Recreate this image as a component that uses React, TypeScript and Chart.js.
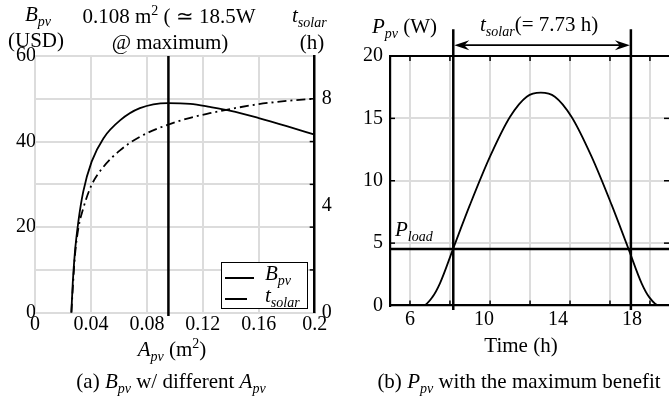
import React, { useEffect, useRef } from 'react';
import { Chart, registerables } from 'chart.js';
Chart.register(...registerables);

// ---------- data: (a) B_pv and t_solar vs A_pv ----------
const apv = [0.026, 0.027, 0.0285, 0.031, 0.0345, 0.0405, 0.049, 0.061, 0.075, 0.095, 0.111, 0.125, 0.14, 0.16, 0.18, 0.2];
const bpv = [0, 7, 14, 21.3, 28.3, 35.3, 40.8, 45.0, 47.8, 49.0, 48.8, 48.1, 47.2, 45.5, 43.6, 41.6];
const tsolarH = [0, 0.9, 2.1, 3.15, 3.9, 4.78, 5.46, 6.08, 6.58, 7.03, 7.29, 7.46, 7.62, 7.8, 7.92, 8.0];
const apvTicks = [0, 0.04, 0.08, 0.12, 0.16, 0.2];
const apvTickLabels = ['0', '0.04', '0.08', '0.12', '0.16', '0.2'];
const bpvTicks = [0, 10, 20, 30, 40, 50, 60];
const bpvTickLabels = ['0', '', '20', '', '40', '', '60'];
const tsolarTicks = [0, 4, 8];
const apvAtMax = 0.0954;

// ---------- data: (b) P_pv over the day ----------
const time = [4.92, 6.72, 7.2, 7.62, 8.34, 9.25, 10.33, 11.41, 12.31, 13.07, 13.83, 14.73, 15.81, 16.89, 17.8, 18.52, 18.94, 19.45, 20.0];
const ppv = [0, 0, 0.65, 1.78, 4.58, 8.1, 11.95, 15.13, 16.74, 17.06, 16.74, 15.13, 11.95, 8.1, 4.58, 1.78, 0.65, 0, 0];
const timeTicks = [6, 10, 14, 18];
const timeGrid = [6.0, 8.16, 10.33, 12.49, 14.65, 16.81, 18.97];
const ppvTicks = [0, 5, 10, 15, 20];
const pLoad = 4.53;
const tsolarStart = 8.34;
const tsolarEnd = 17.94;

const FONT = "'Liberation Serif', 'Times New Roman', serif";
const GRID = '#dcdcdc';
const CLEAR = 'rgba(0,0,0,0)';

const inwardTicks = (id: string, specs: { axis: string; values: number[]; edge: 'left' | 'right' | 'top' | 'bottom' }[]) => ({
  id,
  afterDatasetsDraw(chart: any) {
    const { ctx, chartArea } = chart;
    ctx.save();
    ctx.strokeStyle = '#000';
    ctx.lineWidth = 1.5;
    for (const s of specs) {
      const sc = chart.scales[s.axis];
      for (const v of s.values) {
        const p = sc.getPixelForValue(v);
        ctx.beginPath();
        if (s.edge === 'left') { ctx.moveTo(chartArea.left, p); ctx.lineTo(chartArea.left + 5, p); }
        if (s.edge === 'right') { ctx.moveTo(chartArea.right, p); ctx.lineTo(chartArea.right - 5, p); }
        if (s.edge === 'top') { ctx.moveTo(p, chartArea.top); ctx.lineTo(p, chartArea.top + 5); }
        if (s.edge === 'bottom') { ctx.moveTo(p, chartArea.bottom); ctx.lineTo(p, chartArea.bottom - 5); }
        ctx.stroke();
      }
    }
    ctx.restore();
  },
});

const arrowPlugin = {
  id: 'tsolarArrow',
  afterDatasetsDraw(chart: any) {
    const { ctx } = chart;
    const xs = chart.scales.x;
    const ys = chart.scales.y;
    const x0 = xs.getPixelForValue(tsolarStart) + 1;
    const x1 = xs.getPixelForValue(tsolarEnd) - 1;
    const y = ys.getPixelForValue(20.87);
    ctx.save();
    ctx.strokeStyle = '#000';
    ctx.fillStyle = '#000';
    ctx.lineWidth = 1.8;
    ctx.beginPath();
    ctx.moveTo(x0 + 6, y);
    ctx.lineTo(x1 - 6, y);
    ctx.stroke();
    const head = (tip: number, dir: number) => {
      ctx.beginPath();
      ctx.moveTo(tip, y);
      ctx.lineTo(tip + dir * 15, y - 5);
      ctx.lineTo(tip + dir * 10, y);
      ctx.lineTo(tip + dir * 15, y + 5);
      ctx.closePath();
      ctx.fill();
    };
    head(x0, 1);
    head(x1, -1);
    ctx.restore();
  },
};

function LeftChart() {
  const ref = useRef<HTMLCanvasElement>(null);
  useEffect(() => {
    const chart = new Chart(ref.current!, {
      type: 'line',
      data: {
        datasets: [
          { label: 'Bpv', data: apv.map((x, i) => ({ x, y: bpv[i] })), borderColor: '#000', borderWidth: 1.8, pointRadius: 0, cubicInterpolationMode: 'monotone', yAxisID: 'y' },
          { label: 'tsolar', data: apv.map((x, i) => ({ x, y: tsolarH[i] })), borderColor: '#000', borderWidth: 1.8, borderDash: [9, 4, 2, 4], pointRadius: 0, cubicInterpolationMode: 'monotone', yAxisID: 'y2' },
          { label: 'max', data: [{ x: apvAtMax, y: -0.8 }, { x: apvAtMax, y: 60 }], borderColor: '#000', borderWidth: 2.5, pointRadius: 0, clip: false as any, yAxisID: 'y' },
        ] as any,
      },
      options: {
        animation: false,
        responsive: false,
        events: [],
        layout: { padding: { top: 56, left: 0, right: 0, bottom: 0 } },
        plugins: { legend: { display: false }, tooltip: { enabled: false } },
        scales: {
          x: {
            type: 'linear', min: 0, max: 0.2,
            afterBuildTicks: (s: any) => { s.ticks = apvTicks.map((v) => ({ value: v })); },
            afterFit: (s: any) => { s.height = 27.3; },
            ticks: { callback: (_v: any, i: number) => apvTickLabels[i], font: { family: FONT, size: 20 }, color: '#000', padding: 0, maxRotation: 0, autoSkip: false },
            grid: { color: (c: any) => (c.tick && c.tick.value >= 0.2 ? CLEAR : GRID), lineWidth: 2, drawTicks: false },
            border: { color: GRID, width: 2 },
          },
          y: {
            type: 'linear', min: 0, max: 60,
            afterBuildTicks: (s: any) => { s.ticks = bpvTicks.map((v) => ({ value: v })); },
            afterFit: (s: any) => { s.width = 35; },
            ticks: { callback: (_v: any, i: number) => bpvTickLabels[i], font: { family: FONT, size: 20 }, color: '#000', padding: -1, autoSkip: false },
            grid: { color: GRID, lineWidth: 2, drawTicks: false },
            border: { color: GRID, width: 2 },
          },
          y2: {
            type: 'linear', position: 'right', min: 0, max: 9.6,
            afterBuildTicks: (s: any) => { s.ticks = tsolarTicks.map((v) => ({ value: v })); },
            afterFit: (s: any) => { s.width = 25.3; },
            ticks: { font: { family: FONT, size: 20 }, color: '#000', padding: 7, autoSkip: false },
            grid: { display: false, drawTicks: false },
            border: { color: '#000', width: 2.5 },
          },
        },
      } as any,
      plugins: [inwardTicks('ticksA', [{ axis: 'y', values: [10, 20, 30, 40, 50], edge: 'right' }])],
    });
    return () => chart.destroy();
  }, []);
  return <canvas ref={ref} width={340} height={340} style={{ position: 'absolute', left: 0, top: 0, width: 340, height: 340 }} />;
}

function RightChart() {
  const ref = useRef<HTMLCanvasElement>(null);
  useEffect(() => {
    const chart = new Chart(ref.current!, {
      type: 'line',
      data: {
        datasets: [
          { label: 'Ppv', data: time.map((x, i) => ({ x, y: ppv[i] })), borderColor: '#000', borderWidth: 1.8, pointRadius: 0, cubicInterpolationMode: 'monotone' },
          { label: 'Pload', data: [{ x: time[0], y: pLoad }, { x: time[time.length - 1], y: pLoad }], borderColor: '#000', borderWidth: 2.5, pointRadius: 0 },
          { label: 'start', data: [{ x: tsolarStart, y: -0.36 }, { x: tsolarStart, y: 22.14 }], borderColor: '#000', borderWidth: 2.5, pointRadius: 0, clip: false as any },
          { label: 'end', data: [{ x: tsolarEnd, y: -0.36 }, { x: tsolarEnd, y: 22.14 }], borderColor: '#000', borderWidth: 2.5, pointRadius: 0, clip: false as any },
        ] as any,
      },
      options: {
        animation: false,
        responsive: false,
        events: [],
        layout: { padding: { top: 56, left: 0, right: 0, bottom: 0 } },
        plugins: { legend: { display: false }, tooltip: { enabled: false } },
        scales: {
          x: {
            type: 'linear', position: 'bottom', min: 4.92, max: 20.0,
            afterBuildTicks: (s: any) => { s.ticks = timeTicks.map((v) => ({ value: v })); },
            afterFit: (s: any) => { s.height = 34.5; },
            ticks: { font: { family: FONT, size: 20 }, color: '#000', padding: 2, maxRotation: 0, autoSkip: false },
            grid: { display: false, drawTicks: false },
            border: { color: '#000', width: 2.2 },
          },
          x2: {
            type: 'linear', position: 'top', min: 4.92, max: 20.0,
            afterBuildTicks: (s: any) => { s.ticks = timeGrid.map((v) => ({ value: v })); },
            afterFit: (s: any) => { s.height = 0; },
            ticks: { display: false },
            grid: { color: GRID, lineWidth: 2, drawTicks: false },
            border: { color: '#000', width: 2 },
          },
          y: {
            type: 'linear', min: 0, max: 20,
            afterBuildTicks: (s: any) => { s.ticks = ppvTicks.map((v) => ({ value: v })); },
            afterFit: (s: any) => { s.width = 50; },
            ticks: { font: { family: FONT, size: 20 }, color: '#000', padding: 7, autoSkip: false },
            grid: { color: (c: any) => (c.tick && (c.tick.value === 0 || c.tick.value === 20) ? CLEAR : GRID), lineWidth: 2, drawTicks: false },
            border: { color: '#000', width: 2.2 },
          },
        },
      } as any,
      plugins: [
        arrowPlugin,
        inwardTicks('ticksB', [
          { axis: 'x2', values: timeGrid, edge: 'top' },
          { axis: 'x2', values: timeGrid, edge: 'bottom' },
          { axis: 'y', values: [5, 10, 15], edge: 'left' },
          { axis: 'y', values: [5, 10, 15], edge: 'right' },
        ]),
      ],
    });
    return () => chart.destroy();
  }, []);
  return <canvas ref={ref} width={329} height={340} style={{ position: 'absolute', left: 340, top: 0, width: 329, height: 340 }} />;
}

function Txt({ x, y, align = 'center', children, size = 21 }: any) {
  const tx = align === 'center' ? '-50%' : align === 'right' ? '-100%' : '0';
  return (
    <div style={{ position: 'absolute', left: x, top: y, transform: `translate(${tx}, -50%)`, whiteSpace: 'nowrap', fontSize: size, lineHeight: `${size}px`, fontFamily: FONT, color: '#000' }}>
      {children}
    </div>
  );
}
const It = ({ children }: any) => <span style={{ fontStyle: 'italic' }}>{children}</span>;
const Sub = ({ children }: any) => <span style={{ fontSize: 14, position: 'relative', top: 5, fontStyle: 'italic' }}>{children}</span>;
const Sup = ({ children }: any) => <span style={{ fontSize: 14, position: 'relative', top: -8 }}>{children}</span>;

function Legend() {
  return (
    <div style={{ position: 'absolute', left: 221, top: 262, width: 87, height: 47, border: '1.5px solid #000', background: '#fff', boxSizing: 'border-box' }}>
      <div style={{ position: 'absolute', left: 3, top: 14, width: 29, height: 2, background: '#000' }} />
      <div style={{ position: 'absolute', left: 3, top: 35, width: 22, height: 2, background: '#000' }} />
      <Txt x={43} y={11} align="left"><It>B</It><Sub>pv</Sub></Txt>
      <Txt x={43} y={33} align="left"><It>t</It><Sub>solar</Sub></Txt>
    </div>
  );
}

export default function App() {
  return (
    <div style={{ position: 'absolute', left: 0, top: 0, width: 669, height: 403, background: '#fff', overflow: 'hidden', fontFamily: FONT }}>
      <LeftChart />
      <RightChart />
      <Legend />
      {/* left panel texts */}
      <Txt x={25} y={15} align="left"><It>B</It><Sub>pv</Sub></Txt>
      <Txt x={36} y={40}>(USD)</Txt>
      <Txt x={169} y={17}>0.108 m<Sup>2</Sup> ( ≃ 18.5W</Txt>
      <Txt x={170} y={42}>@ maximum)</Txt>
      <Txt x={292} y={16} align="left"><It>t</It><Sub>solar</Sub></Txt>
      <Txt x={312} y={42}>(h)</Txt>
      <Txt x={172} y={350}><It>A</It><Sub>pv</Sub> (m<Sup>2</Sup>)</Txt>
      <Txt x={171} y={382}>(a) <It>B</It><Sub>pv</Sub> w/ different <It>A</It><Sub>pv</Sub></Txt>
      {/* right panel texts */}
      <Txt x={372} y={27} align="left"><It>P</It><Sub>pv</Sub> (W)</Txt>
      <Txt x={480} y={25} align="left"><It>t</It><Sub>solar</Sub>(= 7.73 h)</Txt>
      <Txt x={395} y={230} align="left"><It>P</It><Sub>load</Sub></Txt>
      <Txt x={521} y={345}>Time (h)</Txt>
      <Txt x={519} y={382}>(b) <It>P</It><Sub>pv</Sub> with the maximum benefit</Txt>
    </div>
  );
}
